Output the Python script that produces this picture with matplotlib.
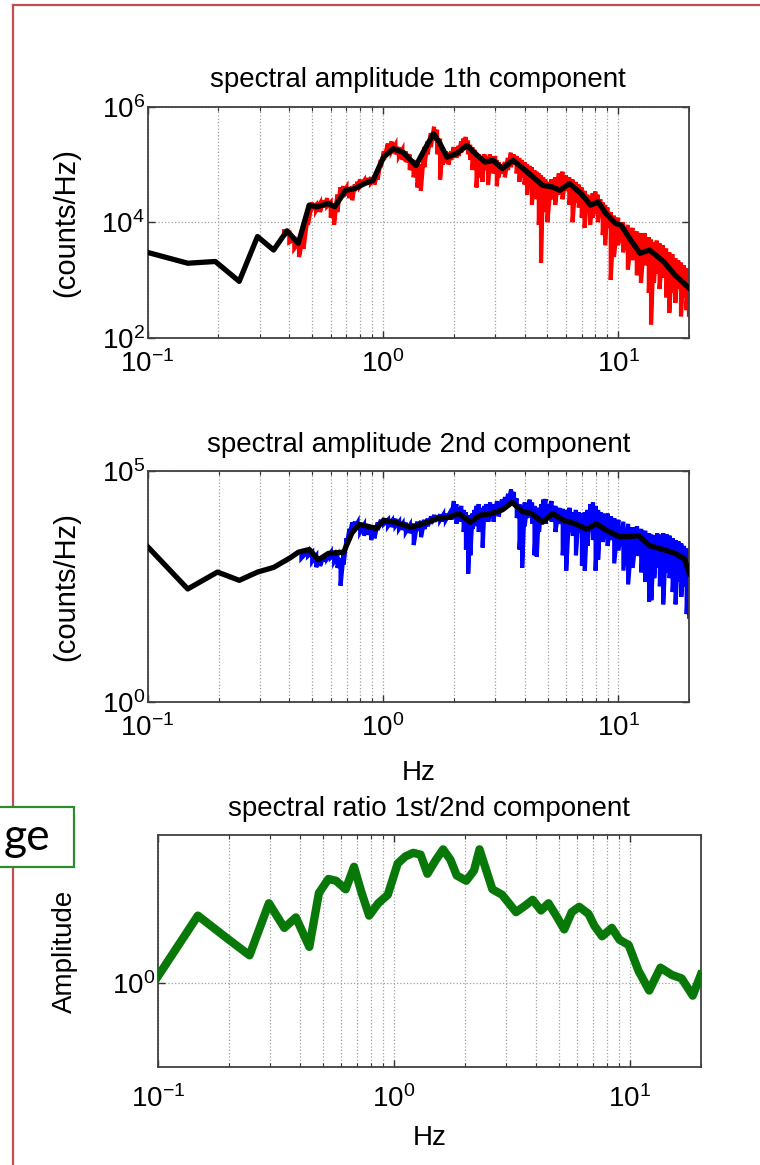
"""Spectres d'amplitude (2 composantes) et rapport spectral."""

import matplotlib
matplotlib.use("Agg")
import matplotlib.pyplot as plt
import numpy as np
from matplotlib import ticker
from matplotlib.lines import Line2D
from matplotlib.patches import Rectangle

plt.rcParams["font.family"] = ["Liberation Sans", "DejaVu Sans"]
plt.rcParams["mathtext.fontset"] = "custom"
plt.rcParams["mathtext.rm"] = "Liberation Sans"
plt.rcParams["axes.unicode_minus"] = False

# ----- Données -----
# composante 1 : spectre lissé (noir)
BLACK1_F = [0.1, 0.148, 0.194, 0.245, 0.293, 0.343, 0.391, 0.437, 0.486, 0.524,
            0.586, 0.625, 0.694, 0.76, 0.836, 0.908, 1.007, 1.107, 1.216, 1.383,
            1.523, 1.64, 1.74, 1.87, 2.05, 2.28, 2.52, 2.72, 2.94, 3.22,
            3.57, 3.88, 4.34, 4.77, 5.25, 5.65, 6.21, 6.95, 7.64, 8.22,
            8.86, 9.73, 10.3, 11.3, 12.4, 13.6, 15.6, 17.4, 20.0]
BLACK1_Y = [3000, 1950, 2090, 946, 5650, 3300, 7100, 4320, 19800, 18500,
            21100, 18600, 35700, 38300, 46700, 53300, 134000, 187000, 163000, 96000,
            200000, 340000, 240000, 134000, 153000, 213000, 143000, 110000, 118000, 84700,
            118000, 90300, 60800, 43600, 40800, 35700, 46700, 31300, 19800, 22500,
            14200, 9550, 8900, 4930, 2900, 3300, 2090, 1230, 725]

# composante 1 : spectre brut (rouge), bornes haute / basse par raie
RED1_F = [0.38, 0.40, 0.42, 0.44, 0.46, 0.48, 0.50, 0.52, 0.54, 0.56,
          0.58, 0.60, 0.62, 0.64, 0.66, 0.68, 0.70, 0.72, 0.74, 0.76,
          0.78, 0.80, 0.83, 0.86, 0.89, 0.92, 0.95, 0.98, 1.01, 1.05,
          1.09, 1.13, 1.17, 1.21, 1.25, 1.30, 1.35, 1.40, 1.45, 1.50,
          1.55, 1.60, 1.65, 1.70, 1.75, 1.80, 1.85, 1.90, 1.95, 2.00,
          2.05, 2.10, 2.15, 2.20, 2.25, 2.30, 2.35, 2.40, 2.45, 2.50,
          2.55, 2.60, 2.65, 2.70, 2.75, 2.80, 2.85, 2.90, 2.95, 3.00,
          3.05, 3.10, 3.20, 3.30, 3.40, 3.50, 3.60, 3.70, 3.80, 3.90,
          4.00, 4.10, 4.20, 4.30, 4.40, 4.50, 4.60, 4.70, 4.80, 4.90,
          5.00, 5.20, 5.40, 5.60, 5.80, 6.00, 6.20, 6.40, 6.60, 6.80,
          7.00, 7.20, 7.40, 7.60, 7.80, 8.00, 8.20, 8.40, 8.60, 8.80,
          9.00, 9.30, 9.60, 10.0, 10.5, 11.0, 11.5, 12.0, 12.5, 13.0,
          13.5, 13.8, 14.2, 14.6, 15.0, 15.5, 16.0, 16.5, 17.0, 17.5,
          18.0, 18.5, 19.0, 19.5, 20.0]
RED1_HI = [7000, 6500, 5000, 4500, 6000, 14000, 22000, 20000, 21000, 24000,
           26000, 22000, 20000, 30000, 40000, 42000, 40000, 36000, 38000, 45000,
           50000, 55000, 52000, 58000, 60000, 56000, 70000, 120000, 170000, 230000,
           250000, 220000, 200000, 180000, 170000, 150000, 120000, 110000, 100000, 200000,
           250000, 350000, 450000, 400000, 280000, 200000, 170000, 160000, 170000, 200000,
           190000, 210000, 250000, 280000, 300000, 260000, 220000, 200000, 180000, 160000,
           150000, 140000, 130000, 150000, 140000, 130000, 150000, 140000, 125000, 140000,
           120000, 110000, 100000, 110000, 130000, 160000, 150000, 140000, 130000, 120000,
           110000, 100000, 95000, 90000, 80000, 75000, 70000, 65000, 60000, 55000,
           50000, 55000, 60000, 70000, 75000, 65000, 60000, 55000, 50000, 45000,
           40000, 35000, 30000, 28000, 32000, 34000, 30000, 25000, 22000, 20000,
           18000, 15000, 13000, 12000, 10000, 9000, 8000, 7000, 6500, 6500,
           5500, 5000, 4500, 4800, 4300, 4000, 3500, 3000, 2800, 2400,
           2200, 2000, 1800, 1600, 1500]
RED1_LO = [6000, 4500, 3500, 2500, 3500, 9000, 17000, 16000, 15000, 18000,
           19000, 12000, 9000, 15000, 30000, 33000, 32000, 26000, 24000, 35000,
           40000, 42000, 44000, 46000, 48000, 45000, 55000, 90000, 120000, 160000,
           170000, 150000, 140000, 120000, 110000, 80000, 60000, 40000, 35000, 90000,
           150000, 200000, 260000, 150000, 55000, 100000, 110000, 100000, 120000, 140000,
           130000, 140000, 160000, 180000, 190000, 150000, 120000, 80000, 100000, 40000,
           60000, 90000, 50000, 80000, 100000, 45000, 90000, 100000, 70000, 90000,
           42000, 60000, 70000, 60000, 80000, 90000, 100000, 70000, 50000, 60000,
           45000, 30000, 50000, 20000, 35000, 25000, 9000, 2000, 15000, 30000,
           10000, 25000, 20000, 30000, 25000, 35000, 20000, 10000, 22000, 18000,
           12000, 8000, 15000, 9000, 12000, 14000, 10000, 12000, 6000, 4000,
           8000, 1000, 2500, 4000, 3000, 1500, 2200, 1200, 900, 1800,
           600, 170, 900, 1300, 700, 1100, 500, 270, 600, 400,
           700, 235, 500, 300, 250]

# composante 2 : spectre lissé (noir)
BLACK2_F = [0.1, 0.148, 0.198, 0.245, 0.293, 0.343, 0.401, 0.437, 0.486, 0.532,
            0.586, 0.68, 0.737, 0.791, 0.846, 0.935, 1.01, 1.127, 1.31, 1.52,
            1.71, 1.91, 2.10, 2.35, 2.58, 2.88, 3.22, 3.54, 3.88, 4.27,
            4.77, 5.25, 5.86, 6.56, 7.33, 8.05, 9.02, 10.1, 11.1, 12.2,
            13.6, 15.5, 17.4, 19.1, 20.0]
BLACK2_Y = [2300, 280, 650, 430, 650, 820, 1300, 1750, 2000, 1200,
            1650, 1750, 4500, 7000, 6500, 5700, 8500, 7800, 6000, 7600,
            9500, 10000, 12000, 7800, 11000, 12000, 14500, 21000, 13500, 12000,
            7800, 12000, 8500, 7200, 5500, 7200, 5000, 3800, 3800, 4000,
            2400, 2000, 1650, 1250, 600]

# composante 2 : spectre brut (bleu)
BLUE2_F = [0.45, 0.48, 0.50, 0.52, 0.54, 0.56, 0.58, 0.60, 0.62, 0.64,
           0.66, 0.68, 0.70, 0.72, 0.74, 0.76, 0.78, 0.80, 0.83, 0.86,
           0.89, 0.92, 0.95, 0.98, 1.01, 1.05, 1.09, 1.13, 1.17, 1.21,
           1.25, 1.30, 1.35, 1.40, 1.45, 1.50, 1.55, 1.60, 1.65, 1.70,
           1.75, 1.80, 1.85, 1.90, 1.95, 2.00, 2.05, 2.10, 2.15, 2.20,
           2.25, 2.30, 2.35, 2.40, 2.45, 2.50, 2.55, 2.60, 2.65, 2.70,
           2.75, 2.80, 2.85, 2.90, 2.95, 3.00, 3.05, 3.10, 3.20, 3.30,
           3.40, 3.50, 3.60, 3.70, 3.80, 3.90, 4.00, 4.10, 4.20, 4.30,
           4.40, 4.50, 4.60, 4.70, 4.80, 4.90, 5.00, 5.20, 5.40, 5.60,
           5.80, 6.00, 6.20, 6.40, 6.60, 6.80, 7.00, 7.20, 7.40, 7.60,
           7.80, 8.00, 8.20, 8.40, 8.60, 8.80, 9.00, 9.30, 9.60, 10.0,
           10.5, 11.0, 11.5, 12.0, 12.5, 13.0, 13.5, 13.8, 14.2, 14.6,
           15.0, 15.5, 16.0, 16.5, 17.0, 17.5, 18.0, 18.5, 19.0, 19.5,
           20.0]
BLUE2_HI = [1600, 1850, 1750, 1450, 1300, 1450, 1600, 1700, 1600, 1450,
            1300, 1600, 3500, 5600, 7700, 8000, 7700, 7200, 6700, 6400,
            6100, 6700, 7700, 8800, 9600, 8800, 8300, 9300, 8000, 7200,
            7700, 6700, 7200, 8000, 8300, 8800, 9300, 10400, 11200, 10900,
            11500, 11200, 12000, 11200, 12800, 22400, 19200, 16000, 17600, 14400,
            12800, 11200, 9600, 12000, 14400, 17600, 19200, 16000, 14400, 17600,
            19200, 16000, 20800, 19200, 17600, 19200, 22400, 19200, 24000, 27200,
            32000, 40000, 35200, 25600, 19200, 17600, 20800, 19200, 24000, 20800,
            17600, 14400, 16000, 19200, 24000, 24800, 19200, 22400, 17600, 16000,
            15200, 14400, 16000, 12800, 14400, 12800, 12000, 12800, 14400, 19200,
            20800, 17600, 14400, 12800, 12000, 11200, 12000, 10400, 9600, 8800,
            8000, 7200, 6100, 6400, 5600, 5100, 4500, 4200, 4000, 4500,
            4200, 4500, 4300, 4000, 3500, 3200, 3000, 2700, 2400, 2100,
            1400]
BLUE2_LO = [1300, 1450, 1100, 830, 880, 1100, 1300, 1350, 1100, 800,
            330, 950, 2400, 4000, 5600, 6100, 5600, 4800, 4000, 4200,
            3200, 3500, 5300, 6700, 7200, 6400, 6100, 6400, 5600, 5300,
            4800, 4500, 2500, 5100, 3700, 5600, 6400, 7200, 8000, 8300,
            8800, 8000, 8800, 9300, 8800, 9600, 7200, 9600, 8000, 4800,
            2000, 600, 1500, 5600, 6400, 8800, 4800, 7200, 2200, 9600,
            11200, 8000, 9600, 11200, 8000, 12800, 14400, 10400, 14400, 16000,
            19200, 24000, 19200, 9600, 2000, 800, 6400, 9600, 11200, 7200,
            1500, 1400, 4800, 8000, 11200, 7200, 9600, 8000, 4800, 7200,
            1500, 700, 4800, 4000, 1500, 4800, 900, 700, 2400, 4800,
            3200, 700, 1200, 4000, 2900, 4000, 2400, 3200, 1000, 1900,
            700, 350, 800, 1450, 640, 400, 150, 160, 480, 800,
            320, 130, 640, 480, 240, 130, 400, 190, 320, 80,
            70]

# rapport spectral 1/2 (vert)
RATIO_F = [0.1, 0.148, 0.196, 0.245, 0.296, 0.344, 0.385, 0.439, 0.482, 0.529,
           0.570, 0.626, 0.679, 0.728, 0.787, 0.860, 0.944, 1.04, 1.12, 1.21,
           1.30, 1.39, 1.51, 1.62, 1.74, 1.85, 2.03, 2.19, 2.31, 2.44,
           2.62, 2.88, 3.30, 3.63, 3.88, 4.21, 4.53, 4.88, 5.28, 5.68,
           6.11, 6.69, 7.09, 7.64, 8.40, 9.05, 9.9, 10.9, 12.1, 13.5,
           15.1, 16.6, 18.5, 20.0]
RATIO_Y = [1.07, 2.08, 1.63, 1.35, 2.38, 1.82, 2.04, 1.48, 2.66, 3.10,
           3.04, 2.77, 3.54, 2.71, 2.08, 2.38, 2.61, 3.67, 3.96, 4.12,
           4.04, 3.28, 3.82, 4.28, 3.82, 3.22, 3.04, 3.40, 4.28, 3.54,
           2.77, 2.61, 2.16, 2.33, 2.47, 2.20, 2.38, 2.08, 1.79, 2.16,
           2.29, 2.12, 1.86, 1.66, 1.82, 1.60, 1.51, 1.14, 0.92, 1.18,
           1.09, 1.05, 0.87, 1.09]

XLIM = (0.1, 20)
XTICKS = [0.1, 1, 10]


def zigzag(f, hi, lo):
    """Trace brut : pour chaque raie, trait vertical de la borne haute à la basse."""
    x = np.repeat(np.asarray(f, dtype=float), 2)
    y = np.empty(2 * len(f))
    y[0::2] = hi
    y[1::2] = lo
    return x, y


def style_axes(ax, yticks, ylim, xpad):
    ax.set_xscale("log")
    ax.set_yscale("log")
    ax.set_xlim(*XLIM)
    ax.set_ylim(*ylim)
    ax.xaxis.set_major_locator(ticker.FixedLocator(XTICKS))
    ax.xaxis.set_minor_locator(ticker.LogLocator(base=10, subs=np.arange(2, 10)))
    ax.xaxis.set_major_formatter(ticker.LogFormatterSciNotation())
    ax.xaxis.set_minor_formatter(ticker.NullFormatter())
    ax.yaxis.set_major_locator(ticker.FixedLocator(yticks))
    ax.yaxis.set_minor_locator(ticker.NullLocator())
    ax.yaxis.set_major_formatter(ticker.LogFormatterSciNotation())
    ax.grid(True, which="both", axis="x", linestyle=":", color="#a0a0a0", linewidth=0.9)
    ax.grid(True, which="major", axis="y", linestyle=":", color="#a0a0a0", linewidth=0.9)
    ax.tick_params(which="both", direction="in", top=True, right=True,
                   labelsize=20, colors="#333333", labelcolor="black")
    ax.tick_params(which="major", length=5, width=1)
    ax.tick_params(which="minor", length=3, width=0.8)
    ax.tick_params(axis="y", pad=2)
    ax.tick_params(axis="x", pad=xpad)
    for sp in ax.spines.values():
        sp.set_color("#404040")
        sp.set_linewidth(1.3)


fig = plt.figure(figsize=(7.6, 11.65), dpi=100)

ax1 = fig.add_axes([0.1943, 0.7101, 0.7122, 0.1983])
ax2 = fig.add_axes([0.1943, 0.3974, 0.7126, 0.1983])
ax3 = fig.add_axes([0.2075, 0.0841, 0.7145, 0.1991])

# Panneau 1
xr, yr = zigzag(RED1_F, RED1_HI, RED1_LO)
ax1.plot(xr, yr, color="red", linewidth=3, solid_joinstyle="miter", zorder=2)
ax1.plot(BLACK1_F, BLACK1_Y, color="black", linewidth=3.8, zorder=3)
style_axes(ax1, [1e2, 1e4, 1e6], (1e2, 1e6), 9)
ax1.set_title("spectral amplitude 1th component", fontsize=20, pad=14)
ax1.set_ylabel("(counts/Hz)", fontsize=21)
ax1.yaxis.set_label_coords(-0.125, 0.5)

# Panneau 2
xb, yb = zigzag(BLUE2_F, BLUE2_HI, BLUE2_LO)
ax2.plot(xb, yb, color="blue", linewidth=3, solid_joinstyle="miter", zorder=2)
ax2.plot(BLACK2_F, BLACK2_Y, color="black", linewidth=3.8, zorder=3)
style_axes(ax2, [1e0, 1e5], (1e0, 1e5), 9)
ax2.set_title("spectral amplitude 2nd component", fontsize=20, pad=14)
ax2.set_ylabel("(counts/Hz)", fontsize=21)
ax2.yaxis.set_label_coords(-0.125, 0.5)
ax2.set_xlabel("Hz", fontsize=20)
ax2.xaxis.set_label_coords(0.5, -0.25)

# Panneau 3
ax3.plot(RATIO_F, RATIO_Y, color="#087808", linewidth=6, zorder=3)
style_axes(ax3, [1e0], (0.4, 5.0), 13)
ax3.set_title("spectral ratio 1st/2nd component", fontsize=20, pad=14)
ax3.set_ylabel("Amplitude", fontsize=20)
ax3.yaxis.set_label_coords(-0.147, 0.5)
ax3.set_xlabel("Hz", fontsize=20)
ax3.xaxis.set_label_coords(0.5, -0.25)

# Cadre de la diapositive et zone de texte tronquée
W, H = 760.0, 1165.0
fig.add_artist(Line2D([13 / W, 13 / W], [0, 1 - 5 / H], transform=fig.transFigure,
                      color="#c0504d", linewidth=1.6, zorder=0))
fig.add_artist(Line2D([13 / W, 1], [1 - 5 / H, 1 - 5 / H], transform=fig.transFigure,
                      color="#c0504d", linewidth=1.6, zorder=0))
fig.add_artist(Rectangle((-2 / W, 1 - 867 / H), 76 / W, 60 / H, transform=fig.transFigure,
                         facecolor="white", edgecolor="#2e8b2e", linewidth=1.6, zorder=5))
fig.text(50 / W, 1 - 838 / H, "ge", fontsize=32, family=["Lato", "DejaVu Sans"],
         ha="right", va="center", zorder=6)

fig.savefig("out.png", dpi=100)
